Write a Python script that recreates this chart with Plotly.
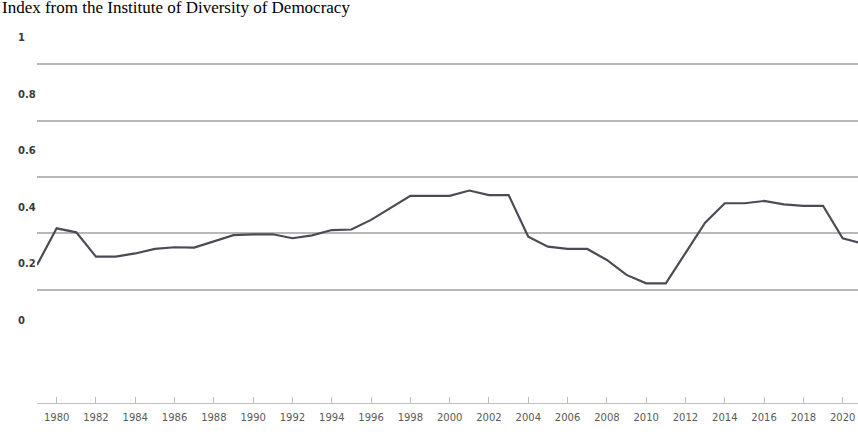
import plotly.graph_objects as go

years = list(range(1979, 2022))
index_values = [0.195, 0.325, 0.311, 0.225, 0.225, 0.236, 0.252, 0.258, 0.257, 0.280,
                0.301, 0.304, 0.304, 0.290, 0.300, 0.319, 0.321, 0.355, 0.398, 0.440,
                0.440, 0.440, 0.459, 0.443, 0.443, 0.295, 0.260, 0.252, 0.252, 0.213,
                0.160, 0.130, 0.130, 0.236, 0.345, 0.414, 0.414, 0.422, 0.410, 0.405,
                0.405, 0.290, 0.271]
x_tick_years = list(range(1980, 2021, 2))
y_label_vals = [0, 0.2, 0.4, 0.6, 0.8, 1]
y_label_text = ["0", "0.2", "0.4", "0.6", "0.8", "1"]
grid_vals = [0.107, 0.307, 0.507, 0.707, 0.907]
title_text = "Index from the Institute of Diversity of Democracy"

y_range = [-0.294, 1.028]
left_margin = 14

fig = go.Figure()
fig.add_trace(go.Scatter(
    x=years, y=index_values, mode="lines",
    line=dict(color="#4b4b57", width=2.2), hoverinfo="skip", showlegend=False,
))
# empty helper trace so the label axis is drawn
fig.add_trace(go.Scatter(x=[None], y=[None], yaxis="y2", mode="lines",
                         showlegend=False, hoverinfo="skip"))

fig.update_layout(
    width=858, height=435,
    margin=dict(l=left_margin, r=0, t=30, b=32, autoexpand=False),
    paper_bgcolor="white", plot_bgcolor="white",
    xaxis=dict(
        domain=[(37 - left_margin) / (858 - left_margin), 1], range=[1979, 2020.78],
        tickvals=x_tick_years, ticktext=[str(y) for y in x_tick_years],
        ticks="inside", ticklen=6, tickcolor="#c0c0c0", tickwidth=1,
        showline=True, linecolor="#c0c0c0", linewidth=1,
        showgrid=False, zeroline=False, automargin=False,
        tickfont=dict(family="DejaVu Sans", size=10, color="#5a5a5a"),
        ticklabelstandoff=5,
    ),
    yaxis=dict(
        range=y_range, tickvals=grid_vals, showticklabels=False,
        showgrid=True, gridcolor="#b8b8b8", gridwidth=1.5,
        zeroline=False, ticks="", showline=False, automargin=False,
    ),
    yaxis2=dict(
        range=y_range, overlaying="y", anchor="free", position=0,
        tickvals=y_label_vals, ticktext=y_label_text,
        ticklabelposition="inside", showgrid=False, zeroline=False,
        showline=False, ticks="", automargin=False,
        tickfont=dict(family="DejaVu Sans", size=10, color="#3a3a3a", weight="bold"),
    ),
    annotations=[dict(
        text=title_text, xref="paper", yref="paper", x=0, y=1,
        xanchor="left", yanchor="top", xshift=-left_margin, yshift=34, showarrow=False,
        font=dict(family="Liberation Serif", size=17, color="black"),
    )],
)

fig.write_html(
    "out.html",
    config={"displayModeBar": False},
    post_script="document.body.style.margin='0';document.body.style.overflow='hidden';",
)
